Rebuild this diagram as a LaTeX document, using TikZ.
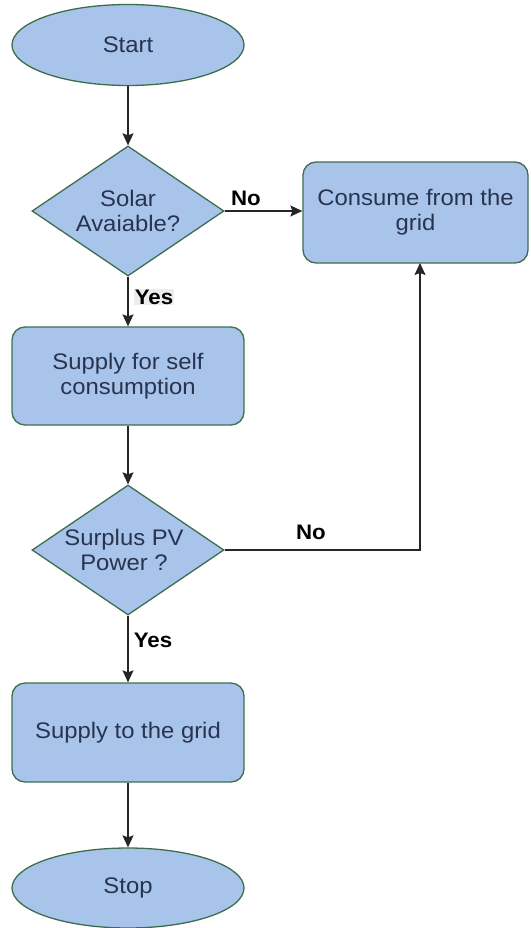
\documentclass[tikz,border=0pt]{standalone}
\usepackage{fontspec}
\setmainfont{Liberation Sans}[FakeStretch=1.06]
\usetikzlibrary{shapes.geometric,arrows.meta}
\definecolor{boxfill}{HTML}{A9C4EB}
\definecolor{boxline}{HTML}{3C6E4E}
\definecolor{txtcol}{HTML}{28344F}
\tikzset{
  base/.style={draw=boxline, fill=boxfill, line width=1.3pt, inner sep=0pt},
  term/.style={base, ellipse, minimum width=232pt, minimum height=81pt},
  dia/.style={base, diamond, minimum width=192pt, minimum height=130pt},
  procbox/.style={base, rectangle, rounded corners=13pt},
  txt/.style={text=txtcol, font=\fontsize{22.5}{25}\selectfont, align=center},
  lbl/.style={font=\fontsize{21}{25}\selectfont\bfseries, text=black, inner sep=1pt},
  conn/.style={line width=1.3pt, draw=black!85, -{Stealth[length=12pt,width=11pt,inset=2pt]}},
}
\begin{document}
\begin{tikzpicture}[x=1pt,y=-1pt]
\useasboundingbox (0,0) rectangle (530,928);
\node[term] (start) at (128,45) {};
\node[txt] (startt) at (start) {Start};
\node[dia] (d1) at (128,211) {};
\node[txt] (d1t) at (128,211) {Solar\\Avaiable?};
\node[procbox, minimum width=225pt, minimum height=101pt] (grid) at (415.5,212.5) {};
\node[txt] (gridt) at (grid) {Consume from the\\grid};
\node[procbox, minimum width=232pt, minimum height=98pt] (self) at (128,376) {};
\node[txt] (selft) at (self) {Supply for self\\consumption};
\node[dia] (d2) at (128,550) {};
\node[txt] (d2t) at (124,550) {Surplus PV\\Power ?};
\node[procbox, minimum width=232pt, minimum height=99pt] (sgrid) at (128,732.5) {};
\node[txt] (sgridt) at (sgrid) {Supply to the grid};
\node[term, minimum height=80pt] (stop) at (128,888) {};
\node[txt] (stopt) at (stop) {Stop};
\coordinate (corner) at (420,550);
\coordinate (gridin) at (420,263);
\draw[conn] (start) -- (d1);
\draw[conn] (d1.east) -- (grid.west |- d1.east);
\draw[conn] (d1) -- (self);
\draw[conn] (self) -- (d2);
\draw[conn] (d2.east) -- (corner) -- (gridin);
\draw[conn] (d2) -- (sgrid);
\draw[conn] (sgrid) -- (stop);
\node[lbl] (no1) at (246,198) {No};
\node[lbl, fill=black!7] (yes1) at (154,297) {Yes};
\node[lbl] (no2) at (311,532) {No};
\node[lbl] (yes2) at (153,640) {Yes};
\end{tikzpicture}
\end{document}
